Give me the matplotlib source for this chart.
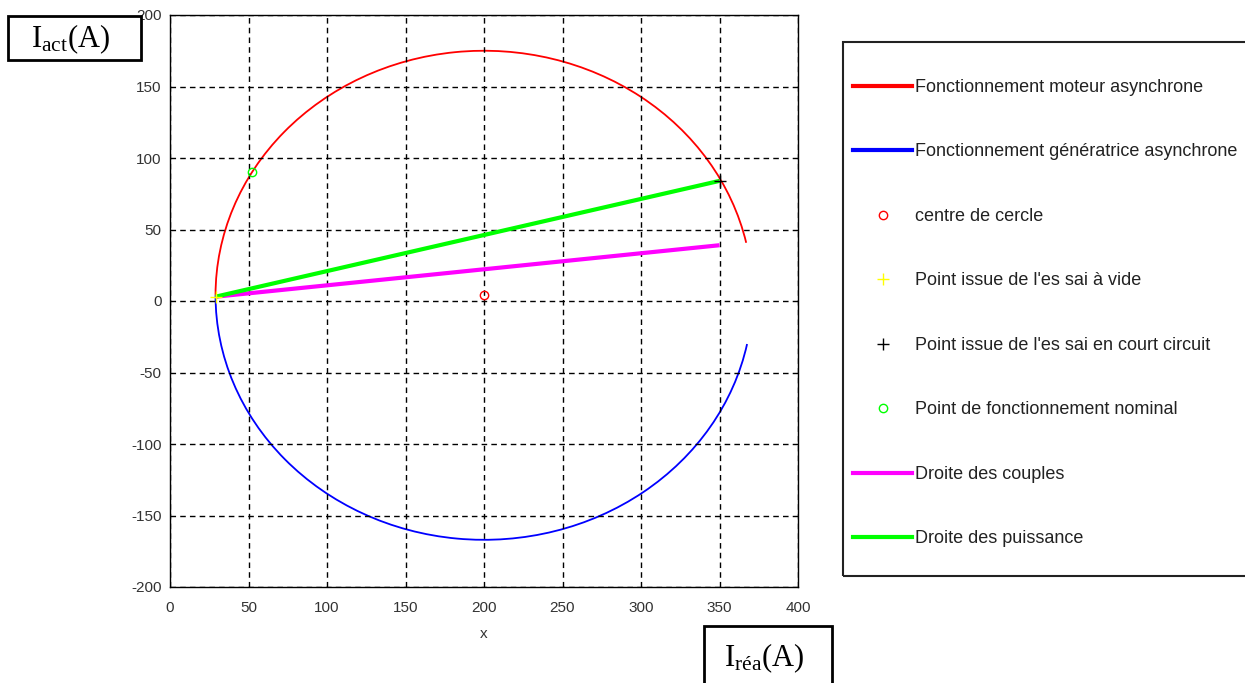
import matplotlib.pyplot as plt
from matplotlib.patches import Arc, Rectangle
from matplotlib.lines import Line2D

plt.rcParams['font.family'] = ['Liberation Sans', 'DejaVu Sans']
plt.rcParams['axes.unicode_minus'] = False
plt.rcParams['mathtext.fontset'] = 'custom'
plt.rcParams['mathtext.rm'] = 'Liberation Serif'
plt.rcParams['mathtext.it'] = 'Liberation Serif:italic'

# cercle de Heyland
centre = (200, 4)
rayon = 171
arc_moteur = (12.4, 180)        # degres
arc_generatrice = (180, 348.5)

point_vide = (29, 3)
point_cc = (350, 84)
point_nominal = (52, 90)
droite_couples = ([29, 350], [3, 39])
droite_puissance = ([29, 350], [3, 84])

labels = ['Fonctionnement moteur asynchrone',
          'Fonctionnement génératrice asynchrone',
          'centre de cercle',
          "Point issue de l'es sai à vide",
          "Point issue de l'es sai en court circuit",
          'Point de fonctionnement nominal',
          'Droite des couples',
          'Droite des puissance']

fig = plt.figure(figsize=(12.45, 6.83), dpi=100)
ax = fig.add_axes([170 / 1245, 1 - 587 / 683, 628 / 1245, 572 / 683])

ax.add_patch(Arc(centre, 2 * rayon, 2 * rayon, theta1=arc_moteur[0], theta2=arc_moteur[1],
                 color='red', lw=1.3))
ax.add_patch(Arc(centre, 2 * rayon, 2 * rayon, theta1=arc_generatrice[0], theta2=arc_generatrice[1],
                 color='blue', lw=1.3))
ax.plot(*droite_couples, color='magenta', lw=3, solid_capstyle='butt')
ax.plot(*droite_puissance, color='lime', lw=3, solid_capstyle='butt')
ax.plot(*centre, 'o', mfc='none', mec='red', ms=6)
ax.plot(*point_vide, '+', color='yellow', ms=9)
ax.plot(*point_cc, '+', color='black', ms=9)
ax.plot(*point_nominal, 'o', mfc='none', mec='lime', ms=6)

ax.set_xlim(0, 400)
ax.set_ylim(-200, 200)
ax.set_xticks(range(0, 401, 50))
ax.set_yticks(range(-200, 201, 50))
ax.grid(True, color='black', linestyle=(0, (4, 3)), lw=1)
ax.tick_params(direction='in', length=0, labelsize=11, labelcolor='#333333')
ax.tick_params(axis='x', pad=10)
ax.tick_params(axis='y', pad=6)
for s in ax.spines.values():
    s.set_linewidth(1.0)
ax.set_xlabel('x', fontsize=11, color='#333333', labelpad=9)

# legende dans un cadre a part
handles = [Line2D([], [], color='red', lw=3),
           Line2D([], [], color='blue', lw=3),
           Line2D([], [], ls='none', marker='o', mfc='none', mec='red', ms=6),
           Line2D([], [], ls='none', marker='+', color='yellow', ms=9),
           Line2D([], [], ls='none', marker='+', color='black', ms=9),
           Line2D([], [], ls='none', marker='o', mfc='none', mec='lime', ms=6),
           Line2D([], [], color='magenta', lw=3),
           Line2D([], [], color='lime', lw=3)]
leg = fig.legend(handles, labels, loc='upper left', bbox_to_anchor=(853 / 1245, 1 - 79 / 683),
                 frameon=False, fontsize=13, handlelength=3.27, handletextpad=0.17,
                 labelspacing=2.63, borderpad=0, borderaxespad=0)
for t in leg.get_texts():
    t.set_color('#222222')
fig.add_artist(Rectangle((843 / 1245, 1 - 576 / 683), 420 / 1245, 534 / 683,
                         transform=fig.transFigure, fill=False, ec='#222222', lw=1.5))

# etiquettes des axes en encadre
fig.add_artist(Rectangle((8 / 1245, 1 - 60 / 683), 133 / 1245, 44 / 683,
                         transform=fig.transFigure, fc='white', ec='black', lw=2, zorder=5))
fig.text(70 / 1245, 1 - 39 / 683, r'$\mathrm{I_{act}(A)}$', fontsize=22,
         ha='center', va='center', zorder=6)
fig.add_artist(Rectangle((704 / 1245, 1 - 700 / 683), 128 / 1245, 74 / 683,
                         transform=fig.transFigure, fc='white', ec='black', lw=2, zorder=5))
fig.text(764 / 1245, 1 - 658 / 683, r'$\mathrm{I_{réa}(A)}$', fontsize=22,
         ha='center', va='center', zorder=6)

fig.savefig('out.png', dpi=100)
